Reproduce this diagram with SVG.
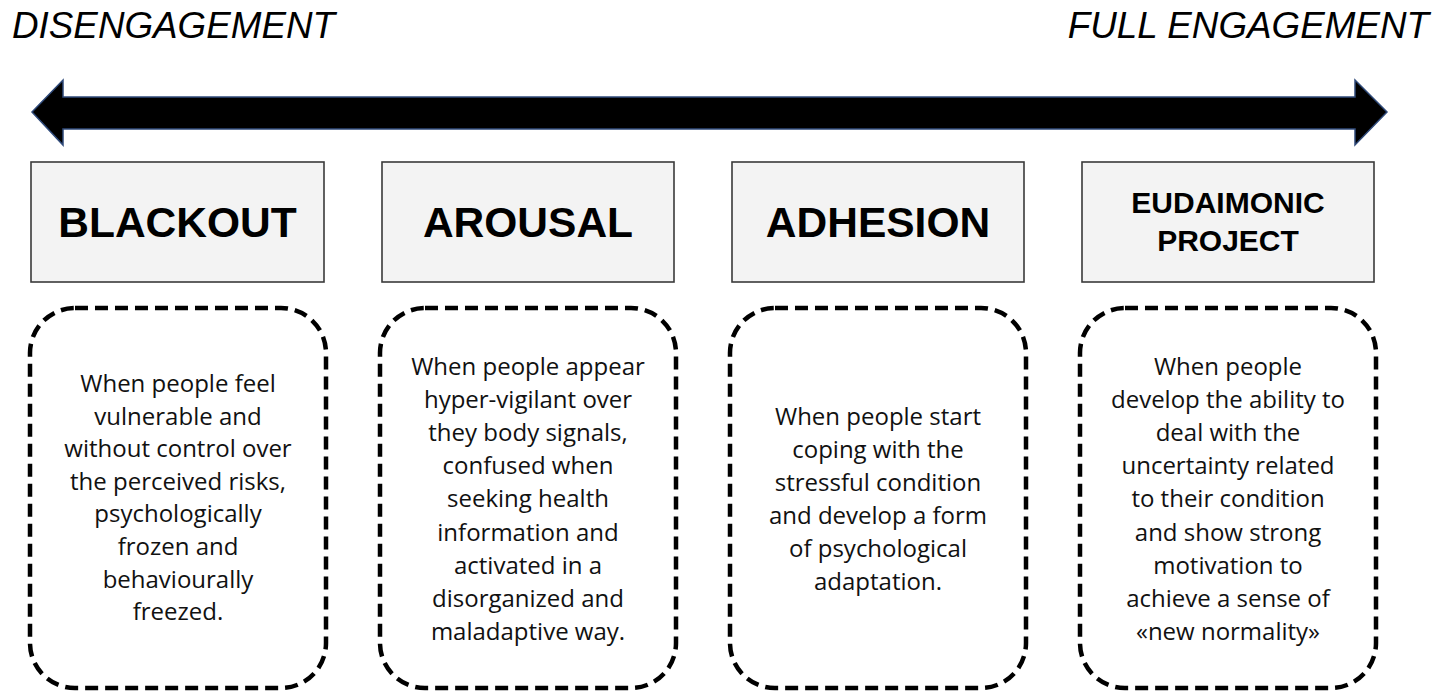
<svg xmlns="http://www.w3.org/2000/svg" width="1451" height="692" viewBox="0 0 1451 692">
<style>
.hdr{font-family:"Liberation Sans",Arial,sans-serif;font-style:italic;font-size:36.8px;fill:#000}
.stage{fill:#f3f3f3;stroke:#3a3a3a;stroke-width:1.6}
.title{font-family:"Liberation Sans",Arial,sans-serif;font-weight:bold;font-size:42.5px;fill:#000;text-anchor:middle}
.title2{font-family:"Liberation Sans",Arial,sans-serif;font-weight:bold;font-size:30px;fill:#000;text-anchor:middle}
.desc{fill:#fff;stroke:#000;stroke-width:4.5;stroke-dasharray:13 7}
.txt{font-family:"Open Sans","Liberation Sans",sans-serif;font-size:24px;fill:#111;text-anchor:middle}
</style>
<rect width="1451" height="692" fill="#fff"/>
<text class="hdr" x="12" y="38">DISENGAGEMENT</text>
<text class="hdr" x="1429" y="38" text-anchor="end">FULL ENGAGEMENT</text>
<g id="connectors">
<polygon points="32,112 63,80 63,97 1355,97 1355,80 1387,112 1355,145 1355,129 63,129 63,145" fill="#000" stroke="#2f4a7a" stroke-width="1.5" stroke-linejoin="miter"/>
</g>
<g id="blackout">
<rect class="stage" x="31" y="162" width="293" height="120"/>
<text class="title" x="177.5" y="237">BLACKOUT</text>
</g>
<g id="arousal">
<rect class="stage" x="382" y="162" width="292" height="120"/>
<text class="title" x="528" y="237">AROUSAL</text>
</g>
<g id="adhesion">
<rect class="stage" x="732" y="162" width="292" height="120"/>
<text class="title" x="878" y="237">ADHESION</text>
</g>
<g id="eudaimonic">
<rect class="stage" x="1082" y="162" width="292" height="120"/>
<text class="title2" x="1228" y="213">EUDAIMONIC</text>
<text class="title2" x="1228" y="251">PROJECT</text>
</g>
<g id="desc-blackout">
<rect class="desc" x="30" y="308" width="296" height="380" rx="45"/>
<text class="txt" x="178" y="392">When people feel</text>
<text class="txt" x="178" y="425">vulnerable and</text>
<text class="txt" x="178" y="457">without control over</text>
<text class="txt" x="178" y="490">the perceived risks,</text>
<text class="txt" x="178" y="522">psychologically</text>
<text class="txt" x="178" y="555">frozen and</text>
<text class="txt" x="178" y="588">behaviourally</text>
<text class="txt" x="178" y="620">freezed.</text>
</g>
<g id="desc-arousal">
<rect class="desc" x="380" y="308" width="296" height="380" rx="45"/>
<text class="txt" x="528" y="375">When people appear</text>
<text class="txt" x="528" y="408">hyper-vigilant over</text>
<text class="txt" x="528" y="441">they body signals,</text>
<text class="txt" x="528" y="474">confused when</text>
<text class="txt" x="528" y="507">seeking health</text>
<text class="txt" x="528" y="541">information and</text>
<text class="txt" x="528" y="574">activated in a</text>
<text class="txt" x="528" y="607">disorganized and</text>
<text class="txt" x="528" y="640">maladaptive way.</text>
</g>
<g id="desc-adhesion">
<rect class="desc" x="730" y="308" width="296" height="380" rx="45"/>
<text class="txt" x="878" y="425">When people start</text>
<text class="txt" x="878" y="458">coping with the</text>
<text class="txt" x="878" y="491">stressful condition</text>
<text class="txt" x="878" y="524">and develop a form</text>
<text class="txt" x="878" y="557">of psychological</text>
<text class="txt" x="878" y="590">adaptation.</text>
</g>
<g id="desc-eudaimonic">
<rect class="desc" x="1080" y="308" width="296" height="380" rx="45"/>
<text class="txt" x="1228" y="375">When people</text>
<text class="txt" x="1228" y="408">develop the ability to</text>
<text class="txt" x="1228" y="441">deal with the</text>
<text class="txt" x="1228" y="474">uncertainty related</text>
<text class="txt" x="1228" y="507">to their condition</text>
<text class="txt" x="1228" y="541">and show strong</text>
<text class="txt" x="1228" y="574">motivation to</text>
<text class="txt" x="1228" y="607">achieve a sense of</text>
<text class="txt" x="1228" y="640">«new normality»</text>
</g>
</svg>
